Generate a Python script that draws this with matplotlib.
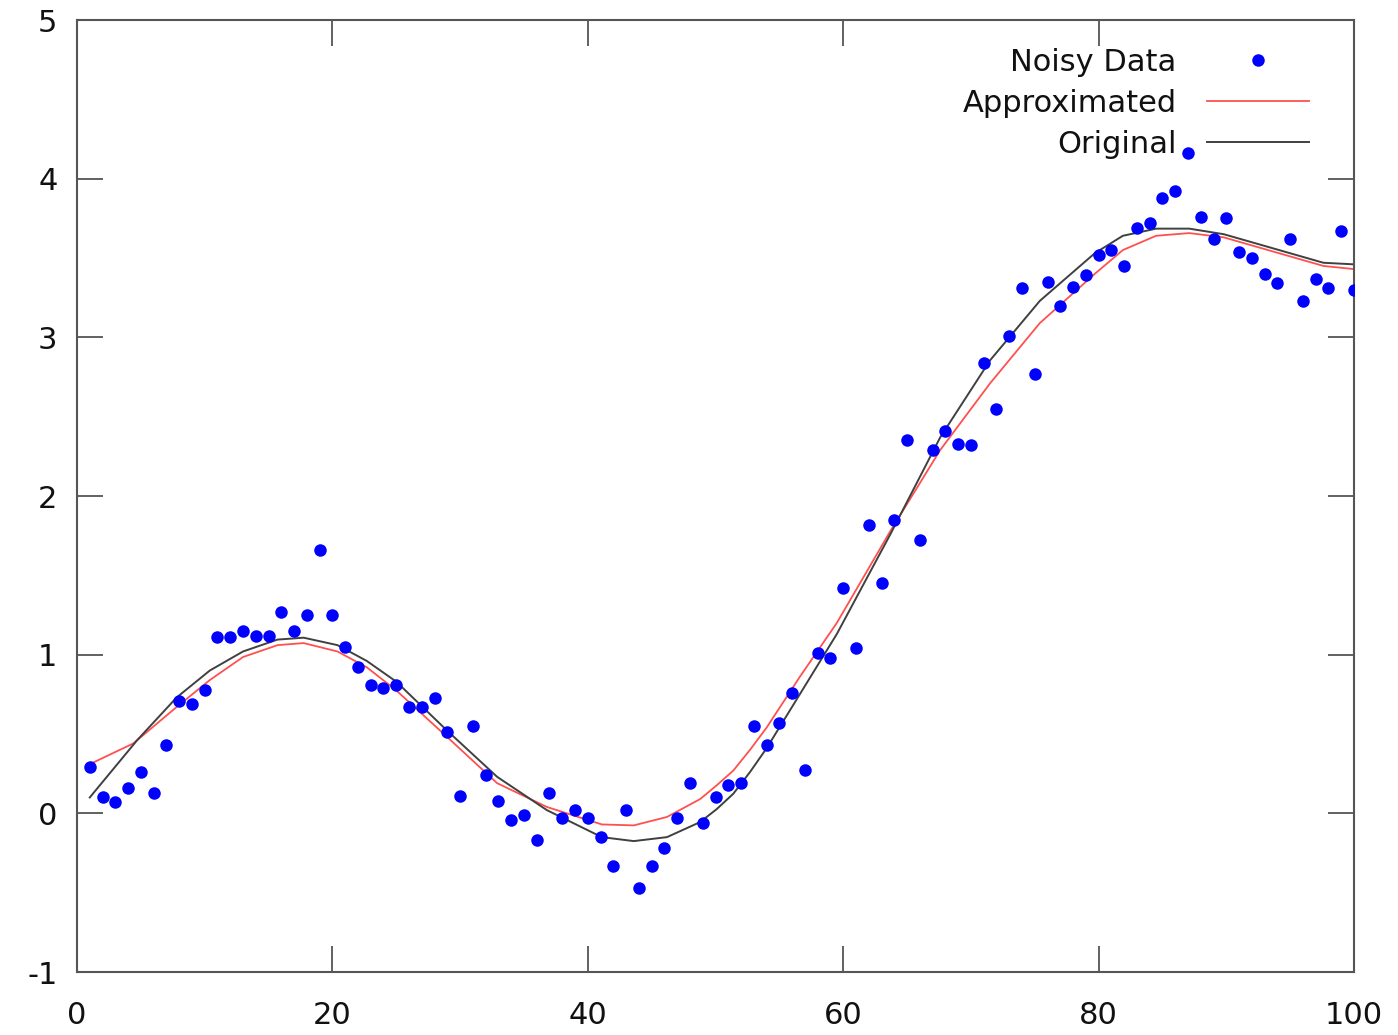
import matplotlib
matplotlib.use("Agg")
import matplotlib.pyplot as plt

# ---- data ----
noisy_x = list(range(1, 101))
noisy_y = [
    0.29, 0.10, 0.07, 0.16, 0.26, 0.13, 0.43, 0.71, 0.69, 0.78,
    1.11, 1.11, 1.15, 1.12, 1.12, 1.27, 1.15, 1.25, 1.66, 1.25,
    1.05, 0.92, 0.81, 0.79, 0.81, 0.67, 0.67, 0.73, 0.51, 0.11,
    0.55, 0.24, 0.08, -0.04, -0.01, -0.17, 0.13, -0.03, 0.02, -0.03,
    -0.15, -0.33, 0.02, -0.47, -0.33, -0.22, -0.03, 0.19, -0.06, 0.10,
    0.18, 0.19, 0.55, 0.43, 0.57, 0.76, 0.27, 1.01, 0.98, 1.42,
    1.04, 1.82, 1.45, 1.85, 2.35, 1.72, 2.29, 2.41, 2.33, 2.32,
    2.84, 2.55, 3.01, 3.31, 2.77, 3.35, 3.20, 3.32, 3.39, 3.52,
    3.55, 3.45, 3.69, 3.72, 3.88, 3.92, 4.16, 3.76, 3.62, 3.75,
    3.54, 3.50, 3.40, 3.34, 3.62, 3.23, 3.37, 3.31, 3.67, 3.30,
]

orig_x = [1, 4.7, 7.8, 10.4, 13, 15.7, 17.75, 20.4, 22.7, 25, 29, 32.9, 36.8,
          41.1, 43.6, 46.2, 48.8, 50.1, 51.4, 52.7, 54, 56.6, 59.5, 63.7, 67.6,
          71.5, 75.4, 79.7, 81.9, 84.5, 87.1, 89.8, 92.4, 95, 97.6, 100]
orig_y = [0.10, 0.46, 0.73, 0.90, 1.02, 1.095, 1.107, 1.06, 0.96, 0.83, 0.52,
          0.23, 0.02, -0.15, -0.175, -0.15, -0.055, 0.027, 0.124, 0.26, 0.41,
          0.75, 1.13, 1.76, 2.37, 2.855, 3.23, 3.53, 3.64, 3.685, 3.685, 3.65,
          3.59, 3.53, 3.47, 3.46]

approx_x = [1, 4.4, 7.8, 10.4, 13, 15.7, 17.75, 20.4, 22.7, 25, 29, 32.9, 36.8,
            41.1, 43.6, 46.2, 48.8, 50.1, 51.4, 52.7, 54, 56.6, 59.5, 63.7, 67.6,
            71.5, 75.4, 79.7, 81.9, 84.5, 87.1, 89.8, 92.4, 95, 97.6, 100]
approx_y = [0.31, 0.44, 0.67, 0.84, 0.985, 1.06, 1.073, 1.02, 0.92, 0.775, 0.48,
            0.19, 0.04, -0.07, -0.076, -0.023, 0.09, 0.177, 0.27, 0.40, 0.54,
            0.86, 1.20, 1.78, 2.29, 2.71, 3.09, 3.40, 3.55, 3.64, 3.657, 3.63,
            3.57, 3.51, 3.45, 3.43]

x_ticks = [0, 20, 40, 60, 80, 100]
y_ticks = [-1, 0, 1, 2, 3, 4, 5]

# ---- figure ----
plt.rcParams['font.family'] = ['DejaVu Sans']
fig = plt.figure(figsize=(13.98, 10.35), dpi=100)
ax = fig.add_axes([77 / 1398, 1 - 972 / 1035, 1277 / 1398, 952 / 1035])

ax.plot(noisy_x, noisy_y, linestyle='none', marker='o', markersize=9,
        color='#0000ff', markeredgewidth=0, label='Noisy Data', zorder=3)
ax.plot(approx_x, approx_y, color='#ff5050', linewidth=1.3,
        label='Approximated', zorder=2)
ax.plot(orig_x, orig_y, color='#404040', linewidth=1.4,
        label='Original', zorder=2)

ax.set_xlim(0, 100)
ax.set_ylim(-1, 5)
ax.set_xticks(x_ticks)
ax.set_yticks(y_ticks)
ax.set_xticklabels([str(v) for v in x_ticks])
ax.set_yticklabels([str(v) for v in y_ticks])

for s in ax.spines.values():
    s.set_color('#555555')
    s.set_linewidth(1.5)

ax.tick_params(axis='both', direction='in', length=18.5, width=1.3,
               color='#555555', labelsize=22, labelcolor='#111111',
               top=True, right=True)
ax.tick_params(axis='x', pad=21)
ax.tick_params(axis='y', pad=14)

leg = ax.legend(loc='upper right', bbox_to_anchor=(0.9648, 0.971),
                frameon=False, markerfirst=False, fontsize=22,
                handlelength=3.33, handletextpad=1.0, labelspacing=0.4,
                borderpad=0, borderaxespad=0, numpoints=1)
for t in leg.get_texts():
    t.set_color('#111111')

fig.savefig('out.png', dpi=100)
